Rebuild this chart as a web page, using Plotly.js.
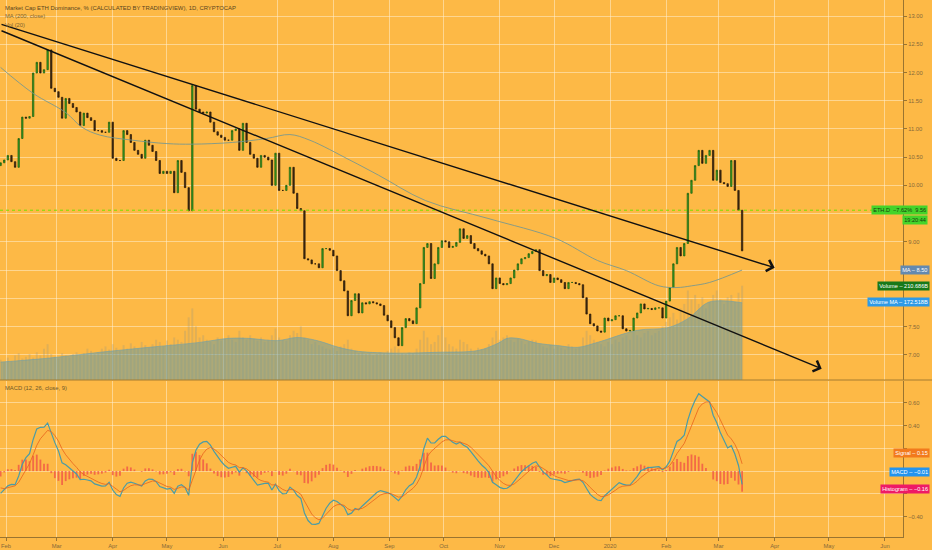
<!DOCTYPE html>
<html><head><meta charset="utf-8">
<script src="https://cdn.plot.ly/plotly-3.0.1.min.js"></script>
<style>html,body{margin:0;padding:0;background:#fdb946;}#chart{width:932px;height:550px;}</style>
</head><body><div id="chart"></div>
<script>
// ---------- data ----------
const startDate = '2019-01-29';
const candleDays = 2;
const firstOpen = 10.35;
const closes = [
10.40,10.45,10.53,10.42,10.32,10.83,11.21,11.19,11.22,11.99,
12.18,11.99,12.05,12.40,11.72,11.66,11.56,11.19,11.54,11.45,
11.38,11.30,11.06,11.28,11.20,11.15,10.97,10.97,10.94,10.94,
11.12,10.48,10.44,10.44,10.97,10.90,10.76,10.62,10.55,10.48,
10.80,10.71,10.60,10.44,10.21,10.25,10.21,10.25,9.87,10.44,
10.23,9.96,9.55,11.77,11.35,11.30,11.28,11.30,11.12,10.95,
10.89,10.85,10.80,10.80,10.97,11.00,10.62,11.10,10.76,10.55,
10.48,10.32,10.53,10.50,10.45,10.00,10.57,9.91,9.91,10.00,
10.32,9.86,9.59,9.55,8.70,8.68,8.61,8.61,8.54,8.88,
8.88,8.85,8.75,8.49,8.31,8.13,7.69,7.96,8.08,7.74,
7.92,7.90,7.94,7.92,7.90,7.87,7.70,7.60,7.48,7.30,
7.16,7.48,7.64,7.60,7.55,7.83,8.26,8.90,8.97,8.35,
8.61,8.90,9.02,9.00,8.90,8.92,8.99,9.23,9.06,9.11,
8.97,8.88,8.84,8.78,8.75,8.61,8.17,8.36,8.26,8.24,
8.26,8.36,8.50,8.61,8.70,8.72,8.79,8.83,8.86,8.49,
8.40,8.42,8.28,8.36,8.33,8.28,8.17,8.28,8.28,8.26,
8.24,8.01,7.72,7.55,7.51,7.42,7.40,7.65,7.60,7.62,
7.69,7.69,7.46,7.42,7.43,7.65,7.74,7.90,7.81,7.82,
7.80,7.83,7.83,7.65,7.95,8.19,8.61,8.90,8.75,8.97,
9.86,10.09,10.35,10.62,10.39,10.53,10.62,10.09,10.27,10.05,
10.03,9.98,10.44,9.91,9.56,8.84
];
const volumes = [
45,40,50,42,55,60,48,52,58,50,
62,55,70,80,58,52,48,60,55,50,
58,62,55,60,70,65,58,62,70,75,
68,80,72,65,78,70,82,75,70,85,
78,72,80,90,85,75,88,80,95,90,
85,110,140,160,120,95,100,90,85,80,
95,88,92,100,90,85,110,95,90,100,
92,88,95,85,90,100,115,95,90,88,
100,110,105,120,95,90,80,85,78,75,
70,68,72,65,75,80,90,70,65,60,
62,58,60,55,58,62,60,65,70,75,
70,60,58,62,60,70,90,110,95,80,
85,100,120,95,80,75,70,90,85,80,
70,65,72,68,70,80,95,110,90,95,
100,90,85,92,88,80,85,90,88,80,
75,72,78,70,75,72,68,80,75,70,
72,95,110,100,90,85,80,75,85,80,
90,85,95,100,90,110,100,95,105,110,
100,105,110,120,130,140,150,135,160,170,
200,180,190,170,185,160,175,190,200,180,
170,185,190,175,195,210.686
];
const maDates = ['2019-01-29','2019-02-16','2019-03-06','2019-03-15','2019-03-25','2019-04-12','2019-05-01','2019-05-15','2019-06-06','2019-06-25','2019-07-08','2019-07-19','2019-08-10','2019-08-26','2019-09-21','2019-10-26','2019-12-02','2019-12-25','2020-01-10','2020-01-28','2020-02-07','2020-02-15','2020-02-25','2020-03-14'];
const maValues = [12.09,11.63,11.29,11.03,10.89,10.80,10.74,10.73,10.76,10.83,10.90,10.80,10.45,10.18,9.73,9.41,9.06,8.67,8.49,8.22,8.19,8.22,8.28,8.50];
const volMaDates = ['2019-01-29','2019-02-25','2019-03-25','2019-04-21','2019-05-19','2019-06-04','2019-06-15','2019-07-01','2019-07-12','2019-07-23','2019-08-04','2019-08-15','2019-09-06','2019-09-28','2019-10-20','2019-10-31','2019-11-05','2019-11-11','2019-11-22','2019-12-03','2019-12-14','2019-12-25','2020-01-16','2020-02-02','2020-02-13','2020-02-24','2020-03-03','2020-03-14'];
const volMaValues = [40,49,62,73,84,93,93,88,95,88,73,64,60,62,66,82,93,93,82,77,73,84,111,117,137,173,177,172.518];
const monthTicks = ['2019-02-01','2019-03-01','2019-04-01','2019-05-01','2019-06-01','2019-07-01','2019-08-01','2019-09-01','2019-10-01','2019-11-01','2019-12-01','2020-01-01','2020-02-01','2020-03-01','2020-04-01','2020-05-01','2020-06-01'];
const monthLabels = ['Feb','Mar','Apr','May','Jun','Jul','Aug','Sep','Oct','Nov','Dec','2020','Feb','Mar','Apr','May','Jun'];
const priceTicks = [7.0,7.5,8.0,8.5,9.0,9.5,10.0,10.5,11.0,11.5,12.0,12.5,13.0];
const priceTickLabels = ['7.00','7.50','','','9.00','','10.00','10.50','11.00','11.50','12.00','12.50','13.00'];
const macdTicks = [-0.4,-0.2,0,0.2,0.4,0.6];
const macdTickLabels = ['−0.40','','','','0.40','0.60'];
const trendUpper = {x:['2019-01-28 16:00','2020-04-01'], y:[12.86, 8.54]};
const trendLower = {x:['2019-01-28 16:00','2020-04-27'], y:[12.75, 6.75]};
const priceLineValue = 9.56;
const macdParams = {fast:12, slow:26, signal:9};
const macdSeed = {fast:10.45, slow:10.67, signal:-0.12};

// ---------- derived ----------
const dayMs = 86400000;
const t0 = Date.parse(startDate + 'T00:00:00Z');
const dates = closes.map((_, i) => new Date(t0 + i*candleDays*dayMs).toISOString().slice(0,10));
const opens = closes.map((c, i) => i === 0 ? firstOpen : closes[i-1]);
const highs = closes.map((c, i) => Math.max(c, opens[i]));
const lows = closes.map((c, i) => Math.min(c, opens[i]));

const aF = 2/(macdParams.fast/candleDays + 1), aS = 2/(macdParams.slow/candleDays + 1), aG = 2/(macdParams.signal/candleDays + 1);
let ef = macdSeed.fast, es = macdSeed.slow, sg = macdSeed.signal;
const macd = [], signal = [], hist = [];
closes.forEach(c => { ef += aF*(c-ef); es += aS*(c-es); const m = ef-es; sg += aG*(m-sg); macd.push(m); signal.push(sg); hist.push(m-sg); });

// ---------- styling ----------
const bg = '#fdb946';
const grid = 'rgba(255,238,205,0.55)';
const axisCol = '#9a7430';
const tickCol = '#86693a';
const FONT = 'Liberation Sans, Arial, sans-serif';
const W = 903, H = 537;
const px = x => x / W, py = y => 1 - y / H;

const traces = [
  {type:'bar', x:dates, y:volumes, xaxis:'x', yaxis:'y', width:dayMs*1.1,
   marker:{color:'rgba(150,150,130,0.28)', line:{width:0}}, hoverinfo:'skip'},
  {type:'scatter', mode:'lines', x:volMaDates, y:volMaValues, xaxis:'x', yaxis:'y',
   line:{color:'rgba(110,160,170,0.6)', width:1, shape:'spline'}, fill:'tozeroy',
   fillcolor:'rgba(100,155,165,0.52)', hoverinfo:'skip'},
  {type:'scatter', mode:'lines', x:maDates, y:maValues, xaxis:'x', yaxis:'y3',
   line:{color:'rgba(115,150,145,0.85)', width:1, shape:'spline'}, hoverinfo:'skip'},
  {type:'candlestick', x:dates, open:opens, high:highs, low:lows, close:closes, xaxis:'x', yaxis:'y3',
   increasing:{line:{color:'#1d5c10', width:0.7}, fillcolor:'#38a222'},
   decreasing:{line:{color:'#2b1a08', width:0.7}, fillcolor:'#3d2a12'},
   whiskerwidth:0, hoverinfo:'skip'},
  {type:'bar', x:dates, y:hist, xaxis:'x', yaxis:'y2', width:dayMs*1.0,
   marker:{color:'rgba(240,85,70,0.8)', line:{width:0}}, hoverinfo:'skip'},
  {type:'scatter', mode:'lines', x:dates, y:macd, xaxis:'x', yaxis:'y2',
   line:{color:'#4a9ca6', width:1.2}, hoverinfo:'skip'},
  {type:'scatter', mode:'lines', x:dates, y:signal, xaxis:'x', yaxis:'y2',
   line:{color:'#e8621c', width:0.8}, hoverinfo:'skip'}
];

function box(text, yPix, bgc, fc, xr) {
  return {xref:'paper', yref:'paper', x:px(xr||930), y:py(yPix), xanchor:'right', yanchor:'middle',
    text:text, showarrow:false, bgcolor:bgc, borderpad:1.2,
    font:{family:FONT, size:5.6, color:fc||'#ffffff'}};
}
function label(text, xPix, yPix, color, size) {
  return {xref:'paper', yref:'paper', x:px(xPix), y:py(yPix), xanchor:'left', yanchor:'middle',
    text:text, showarrow:false, font:{family:FONT, size:size||5.8, color:color}};
}
function trend(t) {
  return {xref:'x', yref:'y3', axref:'x', ayref:'y3', x:t.x[1], y:t.y[1], ax:t.x[0], ay:t.y[0],
    text:'', showarrow:true, arrowhead:4, arrowsize:1.6, arrowwidth:1.4, arrowcolor:'#111111', standoff:0};
}

const layout = {
  width:932, height:550,
  margin:{l:0, r:29, t:0, b:13},
  paper_bgcolor:bg, plot_bgcolor:bg,
  showlegend:false, hovermode:false, boxgap:0.45,
  font:{family:FONT, size:5.8, color:tickCol},
  xaxis:{type:'date', range:['2019-01-28 16:00','2020-06-10 23:00'], anchor:'y2',
    tickmode:'array', tickvals:monthTicks, ticktext:monthLabels, ticklabeloverflow:'allow',
    showgrid:true, gridcolor:grid, gridwidth:1, ticks:'outside', ticklen:3, tickcolor:axisCol,
    showline:true, linecolor:axisCol, linewidth:1, zeroline:false,
    rangeslider:{visible:false}, tickfont:{size:5.8, color:tickCol}, fixedrange:true},
  yaxis:{domain:[py(380), 1], range:[0, 849], visible:false, showgrid:false, zeroline:false, fixedrange:true},
  yaxis3:{overlaying:'y', anchor:'x', side:'right', range:[6.552, 13.284],
    tickmode:'array', tickvals:priceTicks, ticktext:priceTickLabels,
    showgrid:true, gridcolor:grid, gridwidth:1, ticks:'outside', ticklen:3, tickcolor:axisCol,
    showline:true, linecolor:axisCol, zeroline:false, tickfont:{size:5.8, color:tickCol}, fixedrange:true},
  yaxis2:{domain:[0, py(381)], anchor:'x', range:[-0.578, 0.79], side:'right',
    tickmode:'array', tickvals:macdTicks, ticktext:macdTickLabels,
    showgrid:true, gridcolor:grid, gridwidth:1, ticks:'outside', ticklen:3, tickcolor:axisCol,
    showline:true, linecolor:axisCol, zeroline:false, tickfont:{size:5.8, color:tickCol}, fixedrange:true},
  shapes:[
    {type:'line', xref:'paper', yref:'y3', x0:0, x1:1, y0:priceLineValue, y1:priceLineValue,
     line:{color:'#74e000', width:1, dash:'dot'}},
    {type:'line', xref:'paper', yref:'paper', x0:0, x1:932/W, y0:py(380), y1:py(380),
     line:{color:'#a57c30', width:1}}
  ],
  annotations:[
    trend(trendUpper), trend(trendLower),
    label('Market Cap ETH Dominance, % (CALCULATED BY TRADINGVIEW), 1D, CRYPTOCAP', 3, 7.5, '#5a4620', 5.9),
    label('MA (200, close)', 3, 16, '#7d6530'),
    label('Vol (20)', 3, 24.5, '#7d6530'),
    label('MACD (12, 26, close, 9)', 3, 387.5, '#6e5828'),
    box('ETH.D  −7.62%  9.56', 209.5, '#45d42a', '#173a0c', 928),
    box('19:20:44', 220, '#45d42a', '#173a0c', 928),
    box('MA – 8.50', 270, '#6389b0'),
    box('Volume – 210.686B', 286, '#18791a'),
    box('Volume MA – 172.518B', 302, '#2e9ae6'),
    box('Signal – 0.15', 453, '#f27a1c'),
    box('MACD – −0.01', 472, '#2394ee'),
    box('Histogram – −0.16', 489, '#ee1a66')
  ]
};

Plotly.newPlot('chart', traces, layout, {displayModeBar:false, staticPlot:true});
</script>
</body></html>
